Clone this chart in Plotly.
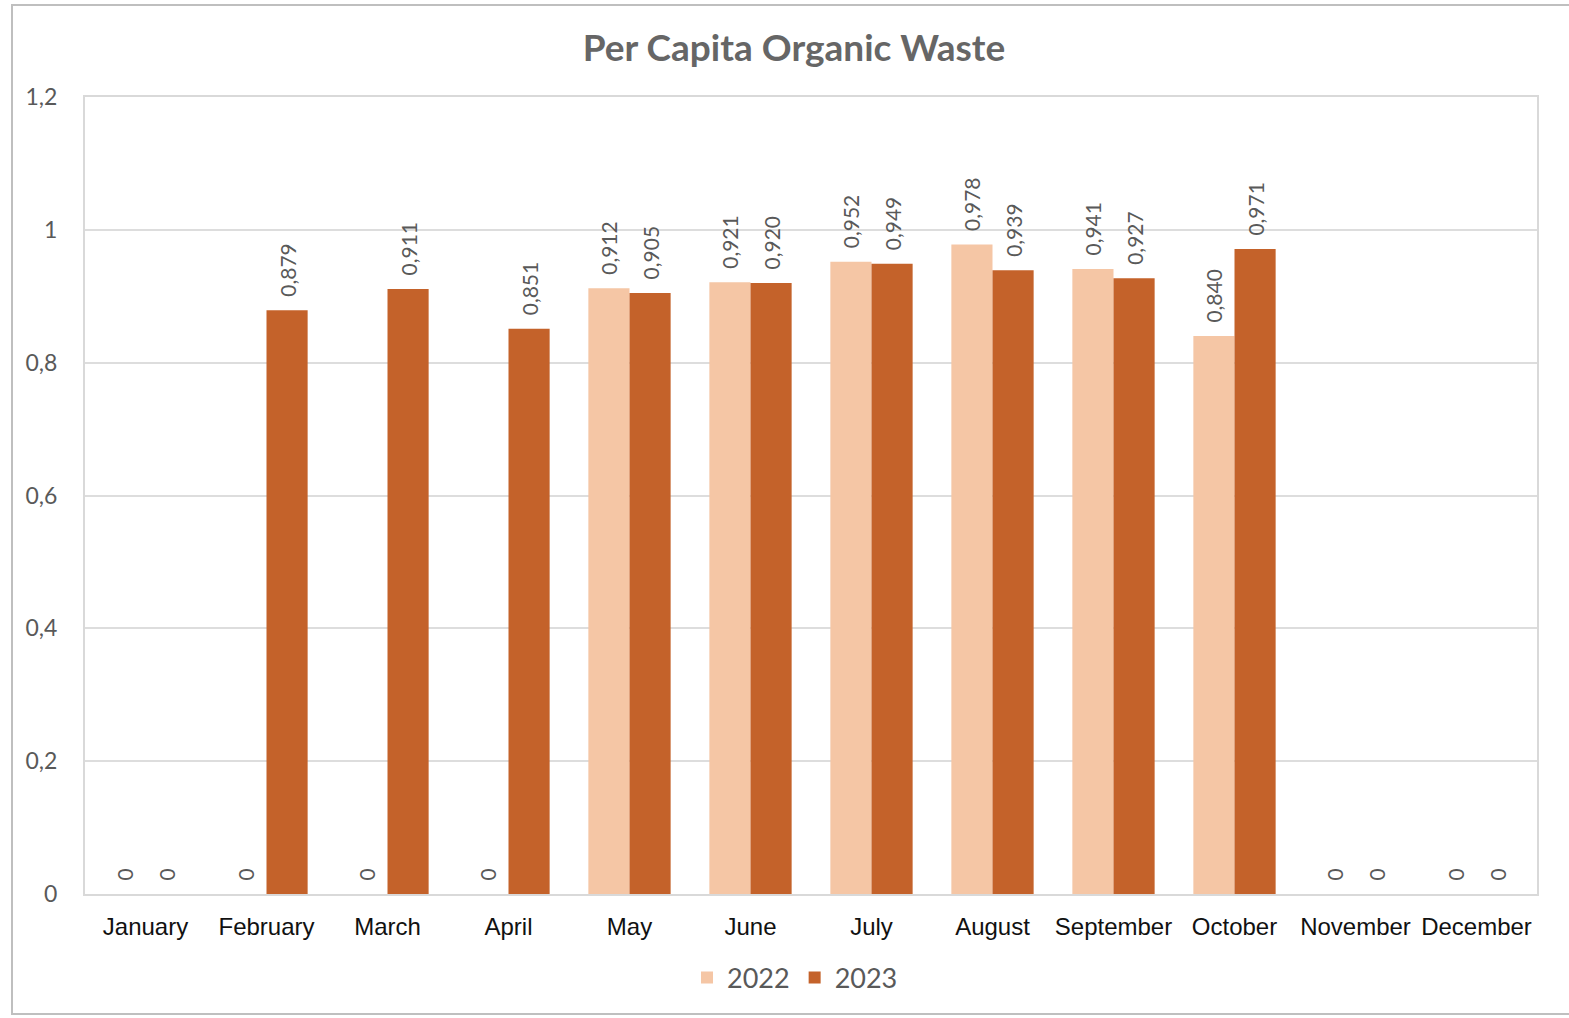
import plotly.graph_objects as go

months = ["January", "February", "March", "April", "May", "June", "July",
          "August", "September", "October", "November", "December"]
values_2022 = [0, 0, 0, 0, 0.912, 0.921, 0.952, 0.978, 0.941, 0.840, 0, 0]
values_2023 = [0, 0.879, 0.911, 0.851, 0.905, 0.920, 0.949, 0.939, 0.927, 0.971, 0, 0]
y_ticks = [0, 0.2, 0.4, 0.6, 0.8, 1.0, 1.2]


def fmt(v):
    s = "0" if v == 0 else f"{v:.3f}".replace(".", ",")
    return "\u2002" + s


label_font = dict(family="Lato, 'Open Sans', sans-serif", size=21, color="#595959")

fig = go.Figure()
fig.add_trace(go.Bar(
    name="2022", x=months, y=values_2022,
    marker=dict(color="#F5C6A5", line=dict(width=0)),
    text=[fmt(v) for v in values_2022], textposition="outside", textangle=-90,
    textfont=label_font, cliponaxis=False, constraintext="none",
))
fig.add_trace(go.Bar(
    name="2023", x=months, y=values_2023,
    marker=dict(color="#C4622A", line=dict(width=0)),
    text=[fmt(v) for v in values_2023], textposition="outside", textangle=-90,
    textfont=label_font, cliponaxis=False, constraintext="none",
))

W, H = 1569, 1018
L, R, T, B = 85, 32, 97, 124
pw = W - L - R
ph = H - T - B


def px_x(p):
    return (p - L) / pw


def px_y(p):
    return (H - B - p) / ph


fig.update_layout(
    width=W, height=H,
    margin=dict(l=L, r=R, t=T, b=B),
    paper_bgcolor="white", plot_bgcolor="white",
    separators=",.",
    barmode="group", bargap=0.32, bargroupgap=0,
    title=dict(text="<b>Per Capita Organic Waste</b>", x=px_x(794), xref="paper",
               xanchor="center", y=1 - 48 / H, yanchor="middle",
               font=dict(family="Lato, 'Open Sans', sans-serif", size=37, color="#666666")),
    legend=dict(orientation="h", x=px_x(795), xanchor="center", y=px_y(978), yanchor="middle",
                font=dict(family="Lato, 'Open Sans', sans-serif", size=27, color="#595959"),
                itemwidth=30, traceorder="normal"),
    xaxis=dict(showgrid=False, showline=True, linecolor="#D9D9D9", linewidth=2, mirror=True,
               ticks="outside", ticklen=10, tickcolor="rgba(0,0,0,0)",
               tickfont=dict(family="'Liberation Sans', Arial, sans-serif", size=24, color="#111111")),
    yaxis=dict(range=[0, 1.2], tickvals=y_ticks, showgrid=True, gridcolor="#DDDDDD", gridwidth=1.5,
               showline=True, linecolor="#D9D9D9", linewidth=2, mirror=True, zeroline=False,
               ticks="outside", ticklen=21, tickcolor="rgba(0,0,0,0)",
               tickfont=dict(family="Lato, 'Open Sans', sans-serif", size=23, color="#595959")),
    shapes=[dict(type="rect", xref="paper", yref="paper",
                 x0=px_x(12), x1=px_x(1580), y0=px_y(1014), y1=px_y(5),
                 line=dict(color="#BFBFBF", width=2), fillcolor="rgba(0,0,0,0)", layer="below")],
)

fig.write_html("out.html", config={"displayModeBar": False},
               post_script="document.body.style.margin='0';document.body.style.overflow='hidden';")
